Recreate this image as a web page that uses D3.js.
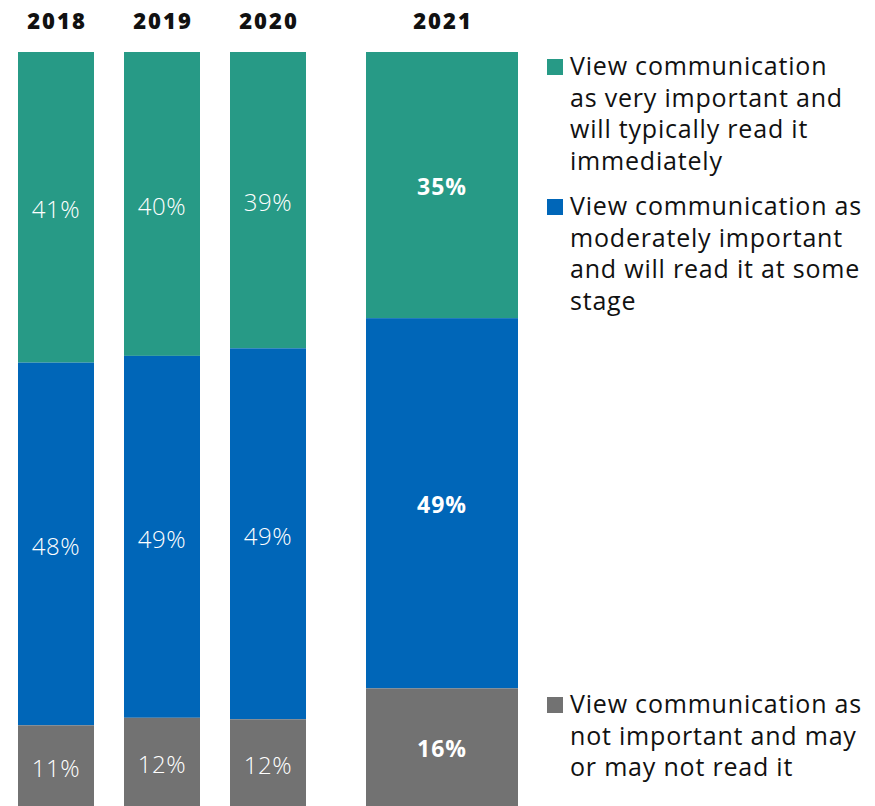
<!DOCTYPE html>
<html><head><meta charset="utf-8">
<script src="https://cdn.jsdelivr.net/npm/d3@7"></script>
<style>body{margin:0;background:#fff}svg{display:block}</style>
</head><body>
<svg id="c" width="875" height="806"></svg>
<script>
const years = ["2018","2019","2020","2021"];
// segment shares as drawn (unrounded estimates)
const veryImportant = [41.2,40.3,39.3,35.3];
const moderatelyImportant = [48.1,48.0,49.2,49.1];
const notImportant = [10.7,11.7,11.5,15.6];
// printed labels
const veryImportantLabels = ["41%","40%","39%","35%"];
const moderatelyImportantLabels = ["48%","49%","49%","49%"];
const notImportantLabels = ["11%","12%","12%","16%"];
const seriesNames = [
  ["View communication","as very important and","will typically read it","immediately"],
  ["View communication as","moderately important","and will read it at some","stage"],
  ["View communication as","not important and may","or may not read it"]
];
const colors = ["#279a86","#0066b8","#727272"];

(function(){
const svg = d3.select("#c");
const font = "'Open Sans', Lato, sans-serif";
const plotTop = 52, plotBottom = 806;
const xPos = {"2018":[18,76],"2019":[124,76],"2020":[230,76],"2021":[366,152]};
const series = [veryImportant, moderatelyImportant, notImportant];
const labels = [veryImportantLabels, moderatelyImportantLabels, notImportantLabels];

years.forEach((yr,i)=>{
  const vals = series.map(s=>s[i]);
  const total = d3.sum(vals);
  const y = d3.scaleLinear().domain([0,total]).range([plotTop,plotBottom]);
  const [x0,w] = xPos[yr];
  const bold = yr==="2021";
  let cum = 0;
  vals.forEach((v,k)=>{
    const y0 = y(cum), y1 = y(cum+v);
    svg.append("rect").attr("x",x0).attr("y",y0).attr("width",w).attr("height",y1-y0).attr("fill",colors[k]);
    svg.append("text").attr("x",x0+w/2).attr("y",(y0+y1)/2+(bold?10:11))
      .attr("text-anchor","middle").attr("fill","#fff")
      .attr("font-family",font).attr("font-size",bold?23:24)
      .attr("font-weight", bold?700:300)
      .attr("letter-spacing", bold?1:0.5)
      .text(labels[k][i]);
    cum += v;
  });
  svg.append("text").attr("x",x0+w/2+1).attr("y",29).attr("text-anchor","middle")
    .attr("font-family",font).attr("font-size",22).attr("font-weight",800).attr("fill","#111")
    .attr("letter-spacing",2)
    .text(yr);
});

const legendTops = [75,215,713];
seriesNames.forEach((lines,k)=>{
  svg.append("rect").attr("x",547).attr("y",legendTops[k]-16).attr("width",16).attr("height",16).attr("fill",colors[k]);
  const t = svg.append("text").attr("font-family",font).attr("font-size",25).attr("fill","#111")
    .attr("letter-spacing",0.8);
  lines.forEach((l,j)=>{
    t.append("tspan").attr("x",570).attr("y",legendTops[k]+j*31.5).text(l);
  });
});
})();
</script>
</body></html>
